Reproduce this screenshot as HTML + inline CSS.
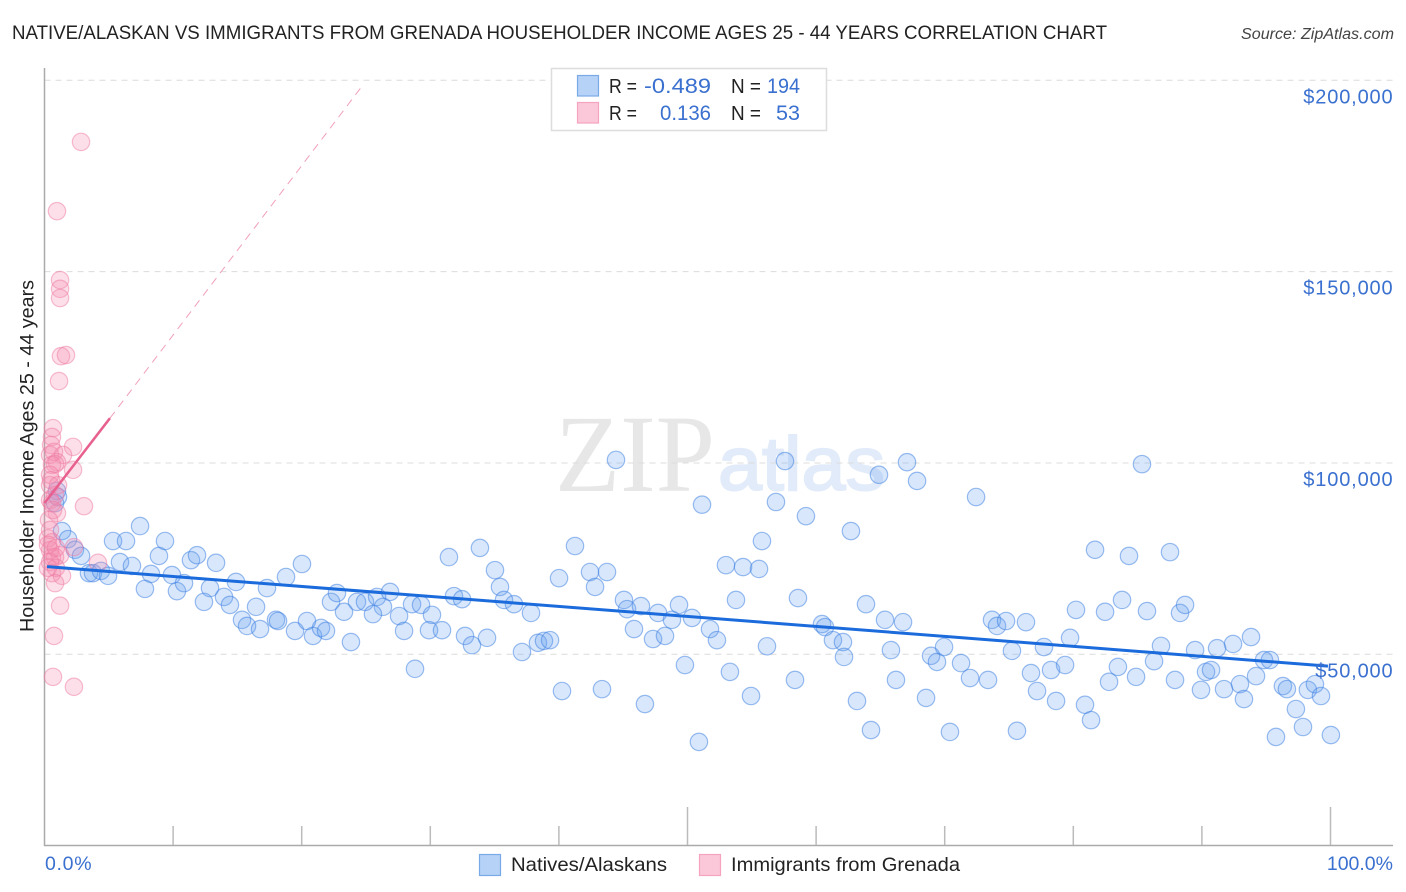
<!DOCTYPE html>
<html lang="en">
<head>
<meta charset="utf-8">
<title>Native/Alaskan vs Immigrants from Grenada Householder Income Chart</title>
<style>
html,body{margin:0;padding:0;background:#fff;}
svg{display:block;font-family:"Liberation Sans",sans-serif;}
</style>
</head>
<body>
<svg id="chart" width="1406" height="892" viewBox="0 0 1406 892" xmlns="http://www.w3.org/2000/svg">
  <rect x="0" y="0" width="1406" height="892" fill="#ffffff"/>
  <text x="12" y="39" font-size="19.5" fill="#222222" textLength="1095" lengthAdjust="spacingAndGlyphs">NATIVE/ALASKAN VS IMMIGRANTS FROM GRENADA HOUSEHOLDER INCOME AGES 25 - 44 YEARS CORRELATION CHART</text>
  <text x="1394" y="39" font-size="15.5" font-style="italic" fill="#444444" text-anchor="end" textLength="153" lengthAdjust="spacingAndGlyphs">Source: ZipAtlas.com</text>
  <text x="555" y="491" font-size="110" fill="#e7e7e7" font-family="'Liberation Serif',serif" textLength="160" lengthAdjust="spacingAndGlyphs">ZIP</text>
  <text x="718" y="490" font-size="76" fill="#e2ebf9" stroke="#e2ebf9" stroke-width="2" textLength="167" lengthAdjust="spacingAndGlyphs">atlas</text>
  <g id="grid"></g>
  <g id="axes"></g>
  <g id="native-points"></g>
  <g id="grenada-points"></g>
  <g id="trends"></g>
  <g id="labels"></g>
  <text transform="translate(33.5,456) rotate(-90)" font-size="19.5" fill="#222222" text-anchor="middle" textLength="352" lengthAdjust="spacingAndGlyphs">Householder Income Ages 25 - 44 years</text>

  <g>
    <rect x="551.5" y="68.5" width="275" height="62" fill="#ffffff" stroke="#dddddd" stroke-width="1.5"/>
    <rect x="577.5" y="75.5" width="21" height="20.5" fill="#b6d2f6" stroke="#7aa9e8" stroke-width="1.2"/>
    <rect x="577.5" y="102.5" width="21" height="20.5" fill="#fbc8d9" stroke="#f5a3bf" stroke-width="1.2"/>
    <text x="609" y="93" font-size="20" fill="#222222" textLength="28" lengthAdjust="spacingAndGlyphs">R =</text>
    <text x="644" y="93" font-size="21.5" fill="#3a70cf" textLength="67" lengthAdjust="spacingAndGlyphs">-0.489</text>
    <text x="731" y="93" font-size="20" fill="#222222" textLength="30" lengthAdjust="spacingAndGlyphs">N =</text>
    <text x="767" y="93" font-size="21.5" fill="#3a70cf" textLength="33" lengthAdjust="spacingAndGlyphs">194</text>
    <text x="609" y="120" font-size="20" fill="#222222" textLength="28" lengthAdjust="spacingAndGlyphs">R =</text>
    <text x="660" y="120" font-size="21.5" fill="#3a70cf" textLength="51" lengthAdjust="spacingAndGlyphs">0.136</text>
    <text x="731" y="120" font-size="20" fill="#222222" textLength="30" lengthAdjust="spacingAndGlyphs">N =</text>
    <text x="776" y="120" font-size="21.5" fill="#3a70cf" textLength="24" lengthAdjust="spacingAndGlyphs">53</text>
  </g>

  <g>
    <rect x="479.5" y="854.5" width="21" height="21" fill="#b6d2f6" stroke="#7aa9e8" stroke-width="1.2"/>
    <text x="511" y="871" font-size="19.5" fill="#222222" textLength="156" lengthAdjust="spacingAndGlyphs">Natives/Alaskans</text>
    <rect x="699.5" y="854.5" width="21" height="21" fill="#fbc8d9" stroke="#f5a3bf" stroke-width="1.2"/>
    <text x="731" y="871" font-size="19.5" fill="#222222" textLength="229" lengthAdjust="spacingAndGlyphs">Immigrants from Grenada</text>
  </g>
</svg>
<script>
const yTickValues = [50, 100, 150, 200];
const yTickLabels = ["$50,000", "$100,000", "$150,000", "$200,000"];
const xTickValues = [10, 20, 30, 40, 50, 60, 70, 80, 90, 100];
const xMajorTicks = [50, 100];
const xEndLabels = ["0.0%", "100.0%"];

const nativeShare = [0.97,1.05,0.82,1.36,1.83,2.37,2.84,3.46,3.77,4.39,4.94,5.33,6.34,5.87,6.80,7.43,7.81,8.28,8.90,9.37,9.91,10.30,10.85,11.39,11.86,12.40,12.87,13.34,13.96,14.42,14.89,15.36,15.75,16.45,16.76,17.30,18.00,18.16,18.78,19.48,20.02,20.41,20.88,21.50,21.89,22.28,22.74,23.29,23.83,24.30,24.92,25.86,26.87,26.32,25.54,27.57,28.58,29.28,30.13,27.96,29.90,30.91,28.81,31.45,33.86,35.03,35.42,31.84,32.47,35.73,36.51,37.83,32.70,33.24,34.41,37.13,38.37,38.84,39.31,40.01,40.24,41.25,42.42,43.74,42.81,44.44,45.06,45.30,46.38,47.71,49.34,48.79,50.35,45.84,47.32,48.25,51.75,52.29,53.77,58.59,43.35,46.69,49.80,53.30,50.89,51.13,56.88,57.58,59.21,55.79,52.99,54.32,55.56,56.18,58.36,54.94,60.46,60.69,61.31,62.09,62.17,62.71,63.88,65.36,66.76,65.82,66.21,63.18,64.27,64.89,67.07,67.85,68.55,68.94,69.40,69.95,70.41,71.27,71.97,72.44,73.37,73.68,74.07,74.77,75.23,75.62,76.32,76.71,77.18,77.72,78.27,78.66,79.36,79.75,80.21,80.91,81.38,81.69,82.47,82.78,83.47,83.79,84.33,84.88,85.34,85.73,86.28,86.82,87.52,87.91,88.30,88.69,89.47,89.93,90.32,90.71,91.18,91.72,92.42,92.96,93.27,93.82,94.21,94.83,95.29,95.76,96.30,96.61,97.31,97.86,98.24,98.79,99.26,100.03];
const nativeIncome = [92.7,91.1,89.5,82.2,80.1,77.3,75.7,71.2,71.2,71.8,70.5,79.6,79.6,74.1,73.1,83.5,67.1,71.0,75.7,79.6,70.7,66.5,68.6,74.6,75.9,63.7,67.3,73.9,65.0,62.9,68.9,59.0,57.4,62.4,56.6,67.3,59.0,58.7,70.2,56.1,73.6,58.7,54.8,56.9,56.1,63.7,66.0,61.1,53.2,63.7,63.7,65.0,66.3,62.4,60.5,60.0,63.1,62.9,60.3,56.1,56.3,56.3,46.2,75.4,77.8,72.0,67.6,65.2,64.4,64.2,63.1,60.8,54.8,52.4,54.3,50.6,53.0,53.5,53.7,69.9,40.4,78.3,71.5,71.5,67.6,100.8,64.2,61.8,62.6,60.8,62.9,59.0,59.5,56.6,54.0,54.8,56.6,53.7,64.2,64.7,40.9,37.0,47.2,45.4,27.1,89.1,89.8,100.5,86.1,79.6,73.3,72.8,72.3,52.1,43.3,39.1,57.9,57.1,53.7,53.2,49.3,82.2,63.1,59.0,58.4,51.1,43.3,37.8,30.2,96.9,100.2,95.3,38.6,49.6,48.0,51.9,29.7,47.7,43.8,91.1,43.3,59.0,57.4,58.7,50.9,30.0,58.4,45.1,40.4,51.9,45.9,37.8,47.2,54.3,61.6,36.8,32.8,77.3,61.1,42.8,46.7,64.2,75.7,44.1,99.7,61.3,48.2,52.2,76.7,43.3,60.8,62.9,51.1,40.7,45.4,45.9,51.6,40.9,52.7,42.2,38.3,54.5,44.3,48.5,48.5,28.4,41.7,40.9,35.7,31.0,40.7,42.2,39.1,28.9];

const grenadaShare = [2.84,0.97,1.21,1.21,1.21,1.28,1.67,1.13,0.66,0.58,0.51,2.22,1.44,0.43,0.74,0.97,0.58,0.82,2.22,0.43,0.43,0.51,1.05,0.82,0.43,0.58,0.97,0.66,3.07,0.35,0.43,0.58,0.27,2.29,1.21,0.58,0.82,0.43,0.27,0.89,4.16,0.43,0.58,0.27,0.89,1.36,0.82,1.21,0.74,0.66,2.29];
const grenadaIncome = [183.9,165.8,147.8,145.5,143.1,127.9,128.2,121.4,109.1,106.8,104.7,104.2,102.1,102.1,102.9,100.2,99.5,99.7,98.2,96.9,94.2,95.5,94.2,91.6,90.3,89.5,86.9,87.7,88.7,85.1,82.5,79.3,80.3,78.0,75.9,75.4,75.4,77.2,78.6,77.8,73.9,74.1,71.2,72.6,72.6,70.5,68.6,62.7,54.8,44.1,41.5];

const nativeTrendShare = [0.2, 99.8];
const nativeTrendIncome = [72.9, 46.9];
const grenadaTrendShare = [0, 5.09];
const grenadaTrendIncome = [89.5, 111.7];
const grenadaProjectionShare = [5.09, 24.7];
const grenadaProjectionIncome = [111.7, 198.5];

const SVG_NS = "http://www.w3.org/2000/svg";
function xScale(share) { return 44.5 + share * 12.86; }
function yScale(income) { return 654.3 - (income - 50) * 3.8267; }
function make(tag, parent, attrs) {
  const el = document.createElementNS(SVG_NS, tag);
  Object.keys(attrs).forEach(function (k) { el.setAttribute(k, attrs[k]); });
  parent.appendChild(el);
  return el;
}

const gridGroup = document.getElementById("grid");
yTickValues.forEach(function (v) {
  const line = make("line", gridGroup, { x1: 44.5, x2: 1393, y1: yScale(v), y2: yScale(v), stroke: "#dcdcdc", "stroke-width": 1, "stroke-dasharray": "6 5" });
  
  
});

const axesGroup = document.getElementById("axes");
const yAxisLine = make("line", axesGroup, { x1: 44.5, x2: 44.5, y1: 68, y2: 846, stroke: "#aaaaaa", "stroke-width": 1.5 });


const xAxisLine = make("line", axesGroup, { x1: 44, x2: 1393, y1: 845.5, y2: 845.5, stroke: "#aaaaaa", "stroke-width": 1.5 });


xTickValues.forEach(function (v) {
  const top = xMajorTicks.indexOf(v) >= 0 ? 807 : 826;
  const tick = make("line", axesGroup, { x1: xScale(v), x2: xScale(v), y1: top, y2: 845, stroke: "#bbbbbb", "stroke-width": 1.5 });
  
  
});

const nativeGroup = document.getElementById("native-points");
nativeShare.forEach(function (s, i) {
  const dot = make("circle", nativeGroup, { cx: xScale(s), cy: yScale(nativeIncome[i]), r: 8.7, fill: "rgba(100,160,238,0.25)", stroke: "rgba(58,125,225,0.5)", "stroke-width": 1.2 });
  
  
});

const grenadaGroup = document.getElementById("grenada-points");
grenadaShare.forEach(function (s, i) {
  const dot = make("circle", grenadaGroup, { cx: xScale(s), cy: yScale(grenadaIncome[i]), r: 8.7, fill: "rgba(246,140,175,0.28)", stroke: "rgba(238,120,160,0.48)", "stroke-width": 1.2 });
  
  
});

const trendGroup = document.getElementById("trends");
const nativeTrend = make("line", trendGroup, { x1: xScale(nativeTrendShare[0]), x2: xScale(nativeTrendShare[1]), y1: yScale(nativeTrendIncome[0]), y2: yScale(nativeTrendIncome[1]), stroke: "#1b6bdc", "stroke-width": 3 });


const grenadaTrend = make("line", trendGroup, { x1: xScale(grenadaTrendShare[0]), x2: xScale(grenadaTrendShare[1]), y1: yScale(grenadaTrendIncome[0]), y2: yScale(grenadaTrendIncome[1]), stroke: "#e8608f", "stroke-width": 2.5 });


const grenadaProjection = make("line", trendGroup, { x1: xScale(grenadaProjectionShare[0]), x2: xScale(grenadaProjectionShare[1]), y1: yScale(grenadaProjectionIncome[0]), y2: yScale(grenadaProjectionIncome[1]), stroke: "#f0a0bc", "stroke-width": 1, "stroke-dasharray": "8 6" });



const labelGroup = document.getElementById("labels");
yTickValues.forEach(function (v, i) {
  const label = make("text", labelGroup, { x: 1393.5, y: yScale(v) + 23, "font-size": 20, fill: "#3a70cf", "text-anchor": "end", "letter-spacing": 0.85 });
  label.textContent = yTickLabels[i];
  
  
});
const xStartLabel = make("text", labelGroup, { x: 45, y: 870, "font-size": 19.5, fill: "#3a70cf", "letter-spacing": 0.7 });
xStartLabel.textContent = xEndLabels[0];


const xEndLabel = make("text", labelGroup, { x: 1393, y: 870, "font-size": 19.5, fill: "#3a70cf", "text-anchor": "end" });
xEndLabel.textContent = xEndLabels[1];


</script>
</body>
</html>
